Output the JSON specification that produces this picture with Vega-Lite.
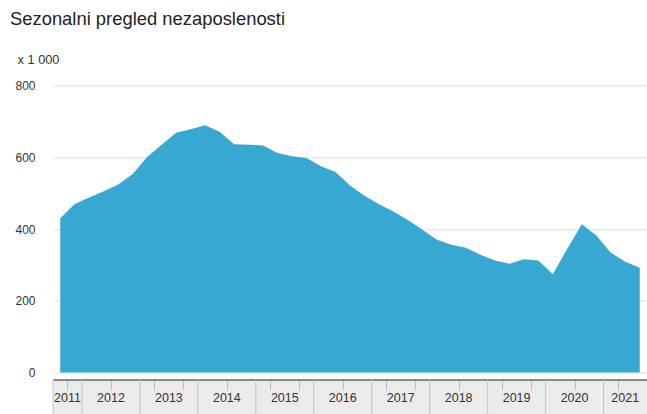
{
  "$schema": "https://vega.github.io/schema/vega-lite/v6.json",
  "background": "white",
  "padding": {"left": 9, "top": 9.5, "right": 0, "bottom": 0},
  "title": {
    "text": "Sezonalni pregled nezaposlenosti",
    "anchor": "start",
    "fontSize": 18.4,
    "fontWeight": "normal",
    "color": "#222222",
    "font": "Liberation Sans",
    "dx": -5,
    "offset": 25
  },
  "config": {
    "font": "Liberation Sans",
    "view": {"stroke": null}
  },
  "spacing": 0,
  "resolve": {"scale": {"x": "shared"}},
  "datasets": {
    "series": [
      {"t": 2011.625, "v": 430},
      {"t": 2011.875, "v": 470},
      {"t": 2012.125, "v": 488},
      {"t": 2012.375, "v": 505},
      {"t": 2012.625, "v": 524},
      {"t": 2012.875, "v": 553},
      {"t": 2013.125, "v": 601},
      {"t": 2013.375, "v": 635},
      {"t": 2013.625, "v": 668},
      {"t": 2013.875, "v": 678},
      {"t": 2014.125, "v": 689},
      {"t": 2014.375, "v": 671},
      {"t": 2014.625, "v": 636},
      {"t": 2014.875, "v": 635},
      {"t": 2015.125, "v": 633},
      {"t": 2015.375, "v": 612},
      {"t": 2015.625, "v": 603},
      {"t": 2015.875, "v": 598},
      {"t": 2016.125, "v": 575},
      {"t": 2016.375, "v": 559},
      {"t": 2016.625, "v": 521},
      {"t": 2016.875, "v": 493},
      {"t": 2017.125, "v": 469},
      {"t": 2017.375, "v": 449},
      {"t": 2017.625, "v": 425},
      {"t": 2017.875, "v": 398},
      {"t": 2018.125, "v": 370},
      {"t": 2018.375, "v": 356},
      {"t": 2018.625, "v": 348},
      {"t": 2018.875, "v": 328},
      {"t": 2019.125, "v": 312},
      {"t": 2019.375, "v": 303},
      {"t": 2019.625, "v": 316},
      {"t": 2019.875, "v": 312},
      {"t": 2020.125, "v": 274},
      {"t": 2020.375, "v": 345},
      {"t": 2020.625, "v": 413},
      {"t": 2020.875, "v": 382},
      {"t": 2021.125, "v": 334},
      {"t": 2021.375, "v": 309},
      {"t": 2021.625, "v": 292}
    ],
    "years": [
      {"year": "2011", "start": 2011.5, "mid": 2011.75},
      {"year": "2012", "start": 2012, "mid": 2012.5},
      {"year": "2013", "start": 2013, "mid": 2013.5},
      {"year": "2014", "start": 2014, "mid": 2014.5},
      {"year": "2015", "start": 2015, "mid": 2015.5},
      {"year": "2016", "start": 2016, "mid": 2016.5},
      {"year": "2017", "start": 2017, "mid": 2017.5},
      {"year": "2018", "start": 2018, "mid": 2018.5},
      {"year": "2019", "start": 2019, "mid": 2019.5},
      {"year": "2020", "start": 2020, "mid": 2020.5},
      {"year": "2021", "start": 2021, "mid": 2021.375}
    ]
  },
  "vconcat": [
    {
      "width": 594,
      "height": 287,
      "data": {"name": "series"},
      "mark": {"type": "area", "color": "#37a8d1", "opacity": 1},
      "encoding": {
        "x": {
          "field": "t",
          "type": "quantitative",
          "scale": {"domain": [2011.5, 2021.75], "nice": false, "zero": false},
          "axis": null
        },
        "y": {
          "field": "v",
          "type": "quantitative",
          "scale": {"domain": [0, 800], "nice": false},
          "axis": {
            "values": [0, 200, 400, 600, 800],
            "grid": true,
            "gridColor": "#dddddd",
            "gridWidth": 1,
            "domain": false,
            "ticks": false,
            "labelPadding": 18,
            "labelFontSize": 12,
            "labelColor": "#333333",
            "title": "x 1 000",
            "titleAngle": 0,
            "titleAlign": "left",
            "titleBaseline": "middle",
            "titleX": -36,
            "titleY": -26,
            "titleFontSize": 12.8,
            "titleFontWeight": "normal",
            "titleColor": "#333333"
          }
        }
      }
    },
    {
      "width": 594,
      "height": 42,
      "view": {"fill": "#ebebeb", "stroke": null},
      "data": {"name": "years"},
      "layer": [
        {
          "mark": {"type": "rule", "color": "#c4c4c4", "strokeWidth": 1},
          "encoding": {
            "x": {
              "field": "start",
              "type": "quantitative",
              "scale": {"domain": [2011.5, 2021.75], "nice": false, "zero": false},
              "axis": {
                "orient": "top",
                "values": [2011.75, 2012.25, 2012.5, 2012.75, 2013.25, 2013.5, 2013.75, 2014.25, 2014.5, 2014.75, 2015.25, 2015.5, 2015.75, 2016.25, 2016.5, 2016.75, 2017.25, 2017.5, 2017.75, 2018.25, 2018.5, 2018.75, 2019.25, 2019.5, 2019.75, 2020.25, 2020.5, 2020.75, 2021.25, 2021.5],
                "labels": false,
                "title": null,
                "grid": false,
                "ticks": true,
                "tickSize": -10,
                "tickColor": "#bbbbbb",
                "domain": true,
                "domainColor": "#666666",
                "domainWidth": 1.5
              }
            }
          }
        },
        {
          "mark": {"type": "text", "fontSize": 12.5, "color": "#333333", "baseline": "middle", "align": "center", "dy": -3},
          "encoding": {
            "x": {"field": "mid", "type": "quantitative"},
            "text": {"field": "year", "type": "nominal"}
          }
        }
      ]
    }
  ]
}
